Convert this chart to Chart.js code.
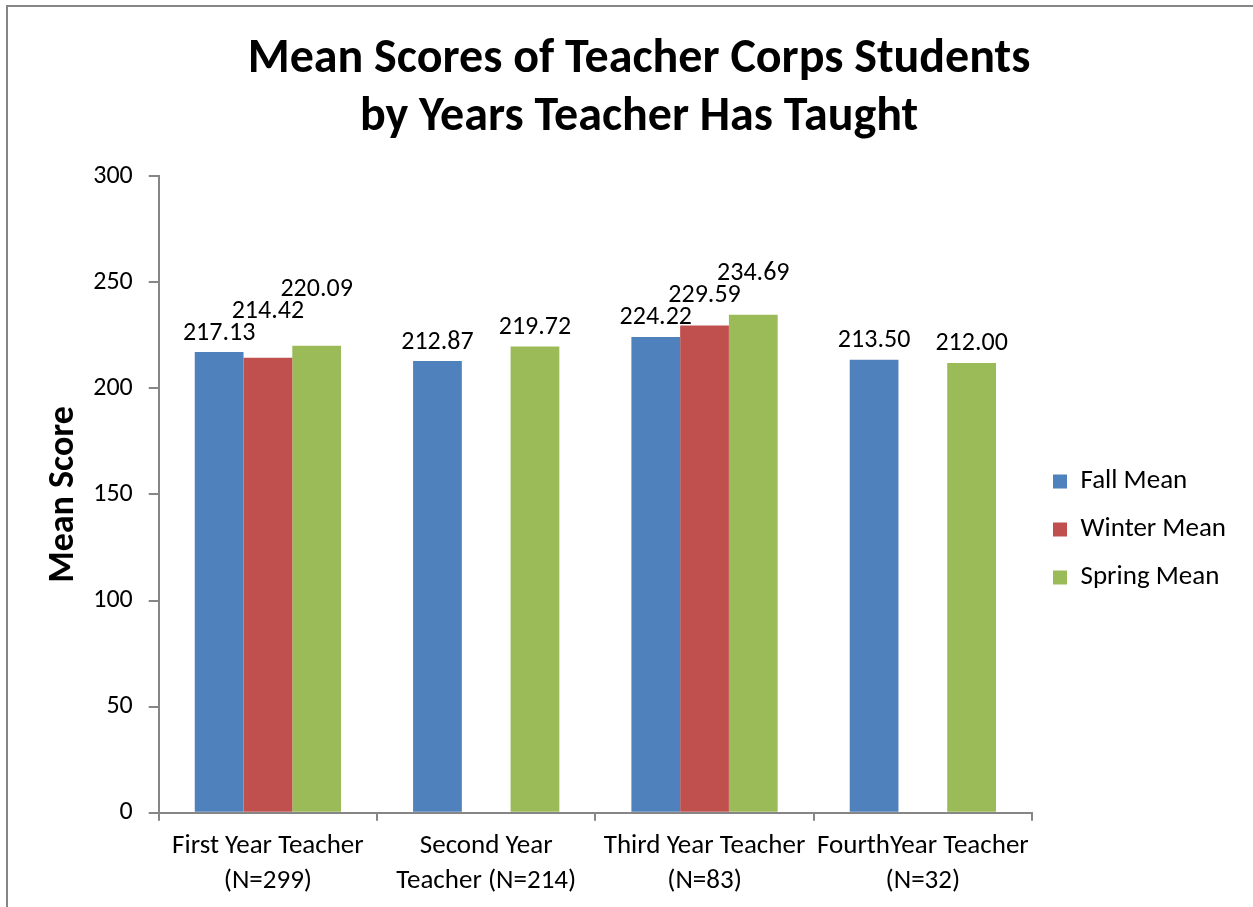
<!DOCTYPE html>
<html>
<head>
<meta charset="utf-8">
<script src="https://cdn.jsdelivr.net/npm/chart.js@4/dist/chart.umd.min.js"></script>
<style>
  html, body { margin: 0; padding: 0; background: #fff; }
  #wrap { width: 1253px; height: 907px; position: relative; }
</style>
</head>
<body>
<div id="wrap"><canvas id="chart"></canvas></div>
<script>
const categories = [
  ['First Year Teacher', '(N=299)'],
  ['Second Year', 'Teacher (N=214)'],
  ['Third Year Teacher', '(N=83)'],
  ['FourthYear Teacher', '(N=32)']
];
const fallMean   = [217.13, 212.87, 224.22, 213.50];
const winterMean = [214.42, null,   229.59, null];
const springMean = [220.09, 219.72, 234.69, 212.00];

const FONT = 'Carlito, Lato, sans-serif';
const AXIS_GRAY = '#868686';

// outer frame like the exported chart box
const framePlugin = {
  id: 'frame',
  beforeDraw(chart) {
    const ctx = chart.ctx;
    ctx.save();
    ctx.fillStyle = '#fff';
    ctx.fillRect(0, 0, chart.width, chart.height);
    ctx.strokeStyle = AXIS_GRAY;
    ctx.lineWidth = 2;
    ctx.strokeRect(7, 6, chart.width + 20, chart.height + 20);
    ctx.restore();
  }
};

// value labels above bars, nudged up when they collide (like Excel does)
const valueLabels = {
  id: 'valueLabels',
  afterDatasetsDraw(chart) {
    const ctx = chart.ctx;
    ctx.save();
    ctx.font = '26px ' + FONT;
    ctx.fillStyle = '#000';
    ctx.textAlign = 'center';
    ctx.textBaseline = 'middle';
    const h = 22;
    chart.data.labels.forEach((_, i) => {
      const placed = [];
      chart.data.datasets.forEach((ds, d) => {
        const v = ds.data[i];
        if (v === null) return;
        const bar = chart.getDatasetMeta(d).data[i];
        const txt = v.toFixed(2);
        const w = ctx.measureText(txt).width;
        let y = bar.y - 19;
        const x = bar.x;
        let moved = true;
        while (moved) {
          moved = false;
          for (const p of placed) {
            if (Math.abs(p.x - x) < (p.w + w) / 2 && Math.abs(p.y - y) < h) {
              y = p.y - h;
              moved = true;
            }
          }
        }
        placed.push({x, y, w});
        ctx.fillText(txt, x, y);
      });
    });
    ctx.restore();
  }
};

new Chart(document.getElementById('chart'), {
  type: 'bar',
  data: {
    labels: categories,
    datasets: [
      { label: 'Fall Mean',   data: fallMean,   backgroundColor: '#4F81BD' },
      { label: 'Winter Mean', data: winterMean, backgroundColor: '#C0504D' },
      { label: 'Spring Mean', data: springMean, backgroundColor: '#9BBB59' }
    ]
  },
  options: {
    responsive: true,
    maintainAspectRatio: false,
    animation: false,
    layout: { padding: { left: 42, top: 14, right: 17, bottom: 0 } },
    datasets: {
      bar: { categoryPercentage: 0.67, barPercentage: 1.0 }
    },
    scales: {
      x: {
        grid: { display: true, drawOnChartArea: false, drawTicks: true, tickLength: 8, color: AXIS_GRAY, lineWidth: 2, offset: true },
        border: { color: AXIS_GRAY, width: 2 },
        ticks: { color: '#000', font: { family: FONT, size: 27, lineHeight: 1.3 }, maxRotation: 0, autoSkip: false, padding: 8 }
      },
      y: {
        min: 0, max: 300,
        grid: { display: true, drawOnChartArea: false, drawTicks: true, tickLength: 10, color: AXIS_GRAY, lineWidth: 2 },
        border: { color: AXIS_GRAY, width: 2 },
        ticks: { stepSize: 50, color: '#000', font: { family: FONT, size: 26 }, padding: 16 },
        title: { display: true, text: 'Mean Score', color: '#000', font: { family: FONT, size: 36, weight: 'bold', lineHeight: 1.2 }, padding: { top: 0, bottom: -8 } }
      }
    },
    plugins: {
      title: {
        display: true,
        text: ['Mean Scores of Teacher Corps Students', 'by Years Teacher Has Taught'],
        color: '#000',
        font: { family: FONT, size: 48, weight: 'bold', lineHeight: 1.21 },
        padding: { top: 17, bottom: 29 }
      },
      legend: {
        position: 'right',
        title: { display: true, text: ' ', padding: { top: 0, bottom: 114 }, font: { size: 20 } },
        labels: {
          color: '#000',
          font: { family: FONT, size: 27 },
          boxWidth: 14, boxHeight: 14,
          padding: 21
        }
      },
      tooltip: { enabled: false }
    }
  },
  plugins: [framePlugin, valueLabels]
});
</script>
</body>
</html>
